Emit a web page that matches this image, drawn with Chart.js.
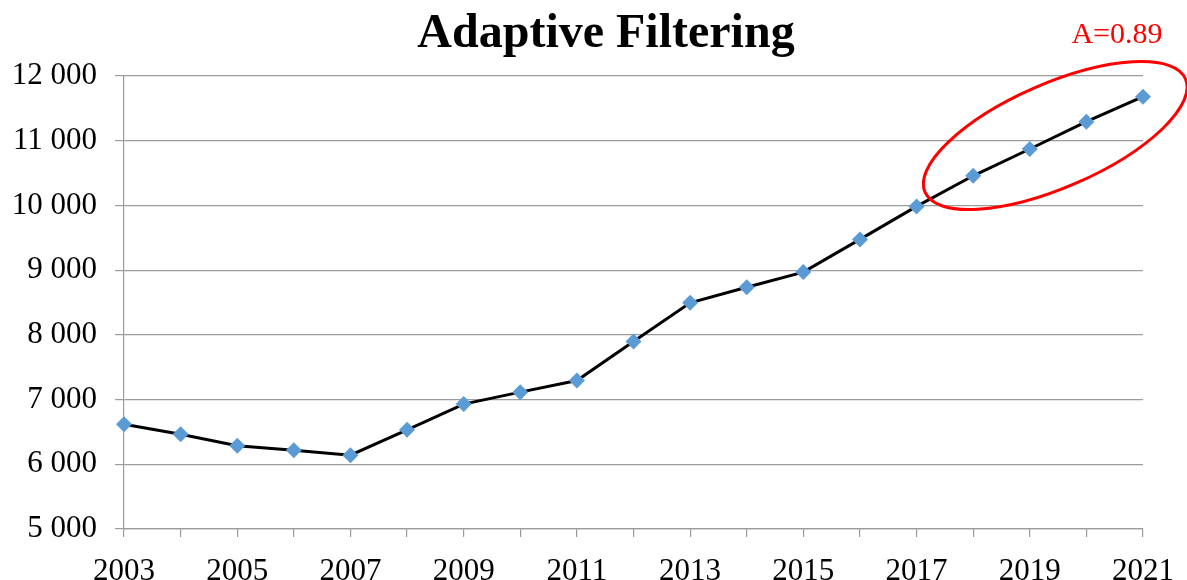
<!DOCTYPE html>
<html>
<head>
<meta charset="utf-8">
<script src="https://cdn.jsdelivr.net/npm/chart.js@4/dist/chart.umd.min.js"></script>
<style>
  html, body { margin: 0; padding: 0; background: #ffffff; }
  #wrap { width: 1187px; height: 580px; position: relative; }
</style>
</head>
<body>
<div id="wrap"><canvas id="c" width="1187" height="580"></canvas></div>
<script>
// ---- data ----
const years = ['2003','2004','2005','2006','2007','2008','2009','2010','2011','2012',
               '2013','2014','2015','2016','2017','2018','2019','2020','2021'];
const values = [6620, 6465, 6288, 6216, 6140, 6532, 6930, 7115, 7295, 7898,
                8496, 8736, 8970, 9475, 9985, 10458, 10872, 11294, 11680];
const yTicks = [5000, 6000, 7000, 8000, 9000, 10000, 11000, 12000];
const titleText = 'Adaptive Filtering';
const noteText = 'A=0.89';

// ---- annotation placement (not data) ----
const ellipseCenterIndex = 16.45;
const ellipseCenterValue = 11080;

const SERIF = '"Liberation Serif", "Times New Roman", serif';
const GRID = '#9c9c9c';

function fmt(v) {
  return String(v).replace(/\B(?=(\d{3})+(?!\d))/g, ' ');
}

const overlay = {
  id: 'overlay',
  afterDraw(chart) {
    const ctx = chart.ctx;
    const xs = chart.scales.x, ys = chart.scales.y;
    ctx.save();
    // title
    ctx.fillStyle = '#000';
    ctx.font = 'bold 48px ' + SERIF;
    ctx.textAlign = 'center';
    ctx.textBaseline = 'alphabetic';
    ctx.fillText(titleText, 606, 47);
    // note
    ctx.fillStyle = '#ff0000';
    ctx.font = '30px ' + SERIF;
    ctx.fillText(noteText, 1117, 43);
    // ellipse
    const cx = xs.getPixelForValue(ellipseCenterIndex);
    const cy = ys.getPixelForValue(ellipseCenterValue);
    ctx.beginPath();
    ctx.ellipse(cx, cy, 142, 52, -23.5 * Math.PI / 180, 0, Math.PI * 2);
    ctx.strokeStyle = '#ff0000';
    ctx.lineWidth = 3;
    ctx.stroke();
    ctx.restore();
  }
};

new Chart(document.getElementById('c'), {
  type: 'line',
  data: {
    labels: years,
    datasets: [{
      data: values,
      borderColor: '#000000',
      borderWidth: 3,
      tension: 0,
      pointStyle: 'rectRot',
      pointRadius: 8,
      pointBackgroundColor: '#5b9bd5',
      pointBorderColor: '#5b9bd5',
      pointBorderWidth: 0,
      clip: false
    }]
  },
  options: {
    responsive: false,
    animation: false,
    events: [],
    layout: { padding: { top: 76, right: 44, left: 0, bottom: 0 } },
    plugins: {
      legend: { display: false },
      title: { display: false },
      tooltip: { enabled: false }
    },
    scales: {
      x: {
        type: 'category',
        offset: false,
        afterFit(s) { s.height = 51; s.paddingLeft = 0; s.paddingRight = 0; },
        grid: {
          drawOnChartArea: false,
          drawTicks: true,
          tickLength: 8,
          color: GRID,
          lineWidth: 1.2
        },
        border: { color: GRID, width: 1.2 },
        ticks: {
          autoSkip: false,
          maxRotation: 0,
          minRotation: 0,
          padding: 16,
          color: '#000',
          font: { family: SERIF, size: 31 },
          callback(val, i) { return i % 2 === 0 ? years[i] : ''; }
        }
      },
      y: {
        min: yTicks[0],
        max: yTicks[yTicks.length - 1],
        afterFit(s) { s.width = 124; s.paddingTop = 0; s.paddingBottom = 0; },
        afterBuildTicks(s) { s.ticks = yTicks.map(v => ({ value: v })); },
        grid: {
          drawTicks: true,
          tickLength: 9,
          color: GRID,
          lineWidth: 1.2
        },
        border: { color: GRID, width: 1.2 },
        ticks: {
          padding: 18,
          color: '#000',
          font: { family: SERIF, size: 31 },
          callback(v) { return fmt(v); }
        }
      }
    }
  },
  plugins: [overlay]
});
</script>
</body>
</html>
